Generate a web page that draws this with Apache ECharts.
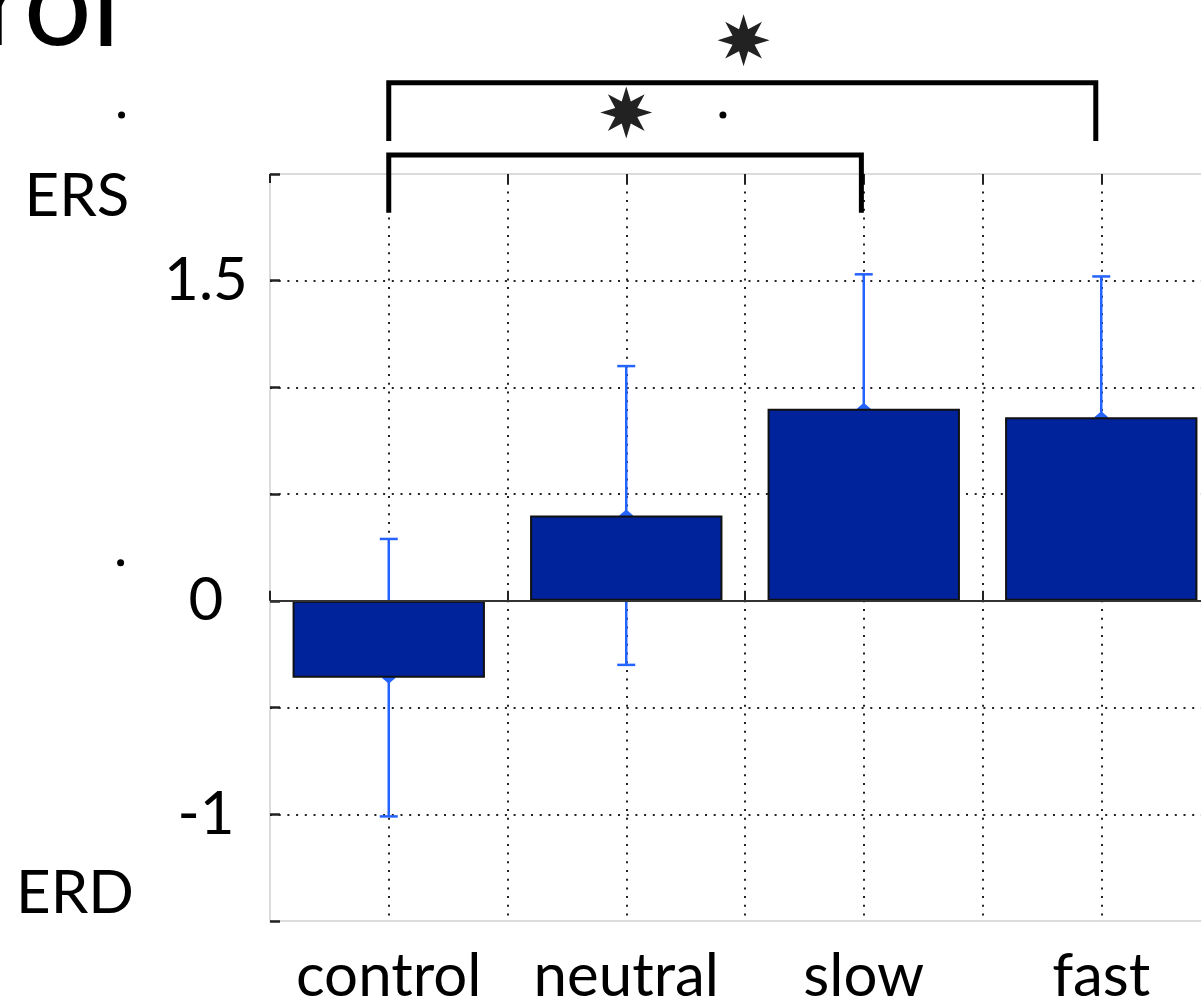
<!DOCTYPE html>
<html><head><meta charset="utf-8">
<script src="https://cdn.jsdelivr.net/npm/echarts@6/dist/echarts.min.js"></script>
<style>html,body{margin:0;padding:0;background:#fff}#c{width:1201px;height:1005px}</style>
</head><body><div id="c"></div>
<script>
// ---- data ----
const categories = ['control', 'neutral', 'slow', 'fast'];
const means = [-0.36, 0.40, 0.90, 0.86];
const errors = [0.65, 0.70, 0.63, 0.66];
const yTickLabels = [-1, 0, 1.5];
// significance brackets: [x1, x2, yTop, yLegEnd] in axis units
const sigBrackets = [
  [1.0, 2.99, 2.089, 1.818],
  [1.0, 3.977, 2.427, 2.155]
];
const sigStars = [[2.0, 2.288], [2.494, 2.627]];
const strayDots = [[-0.125, 2.277], [-0.129, 0.178], [2.407, 2.277]];
const titleText = 'rol';
const sideLabels = ['ERS', 'ERD'];

// ---- style ----
const FONT = 'Lato';
const BAR = '#00239b';
const ERR = '#2563ff';
const GRIDDOT = { color: '#222', width: 2, type: [2, 6.7] };

function starPath(n, rOut, rIn) {
  const pts = [];
  for (let i = 0; i < n * 2; i++) {
    const a = -Math.PI / 2 + i * Math.PI / n;
    const r = i % 2 === 0 ? rOut : rIn;
    pts.push((50 + r * Math.cos(a)).toFixed(2) + ',' + (50 + r * Math.sin(a)).toFixed(2));
  }
  return 'path://M' + pts.join('L') + 'Z';
}

const chart = echarts.init(document.getElementById('c'), null, { renderer: 'canvas' });

const option = {
  animation: false,
  backgroundColor: '#fff',
  grid: {
    left: 270, top: 174, right: -19, bottom: 84,
    show: true, borderColor: '#cfcfcf', borderWidth: 1.5,
    containLabel: false, outerBoundsMode: 'none'
  },
  xAxis: [
    {
      type: 'value', min: 0.5, max: 4.5, interval: 0.5, position: 'bottom',
      axisLine: { show: false },
      axisTick: { show: true, inside: true, length: 10, lineStyle: { color: '#222', width: 2 } },
      axisLabel: {
        formatter: v => (Number.isInteger(v) && v >= 1 && v <= categories.length) ? categories[v - 1] : '',
        fontSize: 60, fontFamily: FONT, color: '#000', margin: 26
      },
      splitLine: { show: true, showMinLine: false, showMaxLine: false, lineStyle: GRIDDOT }
    },
    { type: 'category', data: categories, show: false, boundaryGap: true },
    {
      type: 'value', min: 0.5, max: 4.5, interval: 0.5, position: 'top',
      axisLine: { show: false },
      axisTick: { show: true, inside: true, length: 9, lineStyle: { color: '#222', width: 2 } },
      axisLabel: { show: false },
      splitLine: { show: false }
    }
  ],
  yAxis: [{
    type: 'value', min: -1.5, max: 2, interval: 0.5,
    axisLine: { show: false },
    axisTick: { show: true, inside: true, length: 10, lineStyle: { color: '#222', width: 2.5 } },
    axisLabel: {
      formatter: v => yTickLabels.indexOf(v) >= 0 ? String(v) : '',
      fontSize: 60, fontFamily: FONT, color: '#000', align: 'center', margin: 64
    },
    splitLine: { show: true, showMinLine: false, showMaxLine: false, lineStyle: GRIDDOT }
  }],
  graphic: [
    { type: 'text', x: 120, y: 6, style: { text: titleText, font: '120px ' + FONT, fill: '#000', align: 'right', verticalAlign: 'middle' } },
    { type: 'text', x: 77, y: 197, style: { text: sideLabels[0], font: '60px ' + FONT, fill: '#000', align: 'center', verticalAlign: 'middle' } },
    { type: 'text', x: 75, y: 894, style: { text: sideLabels[1], font: '60px ' + FONT, fill: '#000', align: 'center', verticalAlign: 'middle' } }
  ],
  series: [
    {
      type: 'custom', name: 'err', xAxisIndex: 1, yAxisIndex: 0, z: 1, clip: false,
      data: categories.map((c, i) => [i, means[i], errors[i]]),
      renderItem: function (params, api) {
        const x = api.value(0), m = api.value(1), e = api.value(2);
        const hi = api.coord([x, m + e]), lo = api.coord([x, m - e]), mid = api.coord([x, m]);
        const cap = 9;
        const st = { stroke: ERR, lineWidth: 2.5 };
        return {
          type: 'group', children: [
            { type: 'line', shape: { x1: hi[0], y1: hi[1], x2: lo[0], y2: lo[1] }, style: st },
            { type: 'line', shape: { x1: hi[0] - cap, y1: hi[1], x2: hi[0] + cap, y2: hi[1] }, style: st },
            { type: 'line', shape: { x1: lo[0] - cap, y1: lo[1], x2: lo[0] + cap, y2: lo[1] }, style: st },
            { type: 'polygon', shape: { points: [[mid[0], mid[1] - 6], [mid[0] + 7, mid[1]], [mid[0], mid[1] + 6], [mid[0] - 7, mid[1]]] }, style: { fill: ERR } }
          ]
        };
      }
    },
    {
      type: 'bar', name: 'mean', xAxisIndex: 1, yAxisIndex: 0, z: 2,
      data: means, barWidth: '81%',
      itemStyle: { color: BAR, borderColor: '#111', borderWidth: 2 },
      markLine: {
        silent: true, symbol: 'none', label: { show: false },
        lineStyle: { color: '#333', width: 2, type: 'solid' },
        data: [{ yAxis: 0 }]
      }
    },
    {
      type: 'custom', name: 'brackets', xAxisIndex: 0, yAxisIndex: 0, z: 5, clip: false,
      data: sigBrackets,
      renderItem: function (params, api) {
        const x1 = api.value(0), x2 = api.value(1), yt = api.value(2), yl = api.value(3);
        const a = api.coord([x1, yl]), b = api.coord([x1, yt]), c = api.coord([x2, yt]), d = api.coord([x2, yl]);
        return {
          type: 'polyline', shape: { points: [a, b, c, d] },
          style: { stroke: '#000', lineWidth: 5, fill: null, lineJoin: 'miter', lineCap: 'butt' }
        };
      }
    },
    {
      type: 'scatter', name: 'stars', xAxisIndex: 0, yAxisIndex: 0, z: 6, clip: false,
      data: sigStars, symbol: starPath(8, 50, 23), symbolSize: 52,
      itemStyle: { color: '#222', opacity: 1 }
    },
    {
      type: 'scatter', name: 'dots', xAxisIndex: 0, yAxisIndex: 0, z: 6, clip: false,
      data: strayDots, symbol: 'circle', symbolSize: 7,
      itemStyle: { color: '#000', opacity: 1 }
    }
  ]
};
chart.setOption(option);
</script>
</body></html>
